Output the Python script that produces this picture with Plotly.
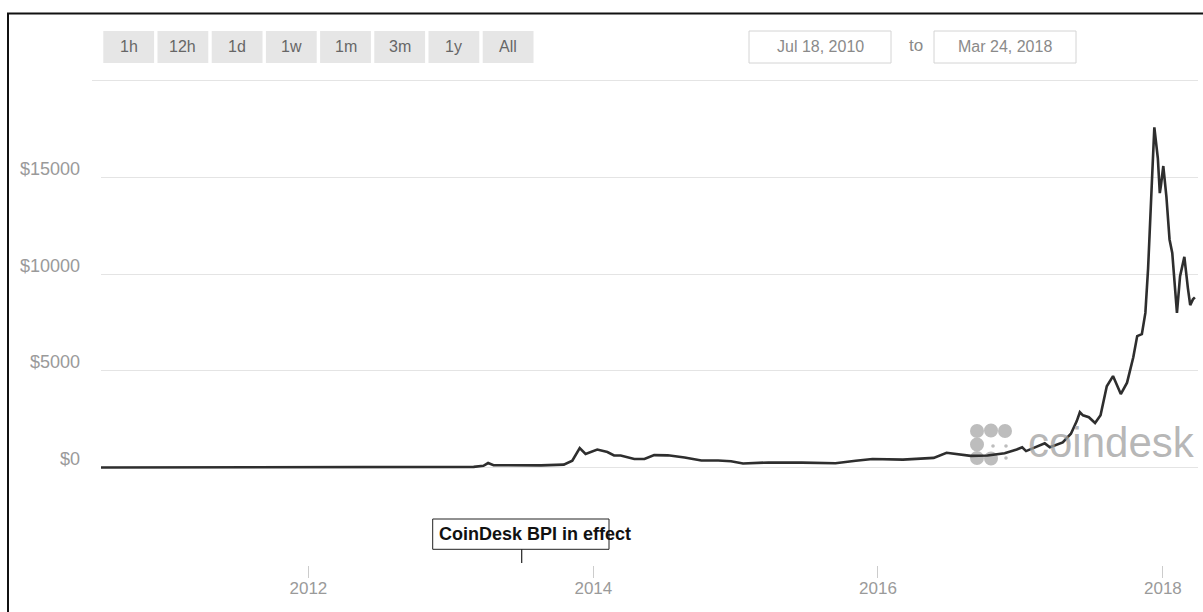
import plotly.graph_objects as go

# ---------------- data ----------------
dates = [
    "2010-07-18", "2010-11-06", "2011-02-10", "2011-06-08", "2011-07-20", "2011-11-18",
    "2012-02-10", "2012-06-15", "2012-08-16", "2012-11-28", "2013-01-20", "2013-02-28",
    "2013-03-25", "2013-04-06", "2013-04-20", "2013-05-07", "2013-06-10", "2013-07-14",
    "2013-08-20", "2013-10-17", "2013-11-08", "2013-11-27", "2013-12-12", "2014-01-11",
    "2014-02-06", "2014-02-23", "2014-03-12", "2014-04-16", "2014-05-12", "2014-06-06",
    "2014-07-11", "2014-08-23", "2014-10-05", "2014-11-17", "2014-12-20", "2015-01-20",
    "2015-03-26", "2015-06-20", "2015-09-14", "2015-11-05", "2015-12-18", "2016-03-05",
    "2016-05-23", "2016-06-25", "2016-07-22", "2016-08-26", "2016-10-08", "2016-11-21",
    "2016-12-22", "2017-01-05", "2017-01-15", "2017-02-19", "2017-03-04", "2017-03-17",
    "2017-04-19", "2017-05-10", "2017-05-25", "2017-06-02", "2017-06-10", "2017-06-25",
    "2017-07-11", "2017-07-25", "2017-08-10", "2017-08-26", "2017-09-15", "2017-10-01",
    "2017-10-17", "2017-10-27", "2017-11-08", "2017-11-17", "2017-11-24", "2017-12-04",
    "2017-12-10", "2017-12-19", "2017-12-24", "2017-12-27", "2018-01-02", "2018-01-10",
    "2018-01-18", "2018-01-25", "2018-02-06", "2018-02-14", "2018-02-25", "2018-03-06",
    "2018-03-12", "2018-03-19", "2018-03-24",
]
prices = [
    0.08, 0.4, 1.0, 29, 14, 2.2,
    5.5, 6.5, 12, 12, 17, 33,
    90, 230, 120, 115, 100, 85,
    110, 150, 350, 1000, 700, 930,
    800, 620, 620, 440, 440, 640,
    630, 520, 360, 360, 320, 210,
    260, 250, 220, 350, 440, 410,
    500, 760, 680, 600, 620, 740,
    930, 1050, 850, 1150, 1250, 1050,
    1300, 1750, 2400, 2860, 2700, 2600,
    2300, 2700, 4200, 4730, 3800, 4390,
    5700, 6800, 6900, 8000, 10300, 14900,
    17600, 16000, 14200, 14600, 15600, 14000,
    11800, 11100, 8000, 9900, 10900, 9300,
    8400, 8700, 8800,
]

x_tick_vals = ["2012-01-01", "2014-01-01", "2016-01-01", "2018-01-01"]
x_tick_text = ["2012", "2014", "2016", "2018"]
y_tick_vals = [0, 5000, 10000, 15000, 20000]
y_tick_text = ["$0", "$5000", "$10000", "$15000", ""]
range_buttons = ["1h", "12h", "1d", "1w", "1m", "3m", "1y", "All"]
date_from = "Jul 18, 2010"
date_to = "Mar 24, 2018"
flag_text = "CoinDesk BPI in effect"
watermark = "coindesk"

# ---------------- layout geometry (pixels) ----------------
W, H = 1203, 612
L, R, T, B = 101, 5, 81, 47
PW = W - L - R
PH = H - T - B
FONT = "Arial, Liberation Sans, sans-serif"


def px(x):
    return (x - L) / PW


def py(y):
    return (H - B - y) / PH


fig = go.Figure()
fig.add_trace(go.Scatter(
    x=dates, y=prices, mode="lines",
    line=dict(color="#2e2e2e", width=2.6),
    hoverinfo="skip", showlegend=False,
))

shapes = []
annotations = []

# top border line of plot area (the $20000 level)
shapes.append(dict(type="line", xref="paper", yref="paper",
                   x0=px(92), x1=px(1198), y0=py(80.5), y1=py(80.5),
                   line=dict(color="#e4e4e4", width=1.2), layer="below"))

# range selector buttons
bx0, bw, bstep = 103.3, 50.8, 54.2
for i, lab in enumerate(range_buttons):
    x0 = bx0 + i * bstep
    shapes.append(dict(type="rect", xref="paper", yref="paper",
                       x0=px(x0), x1=px(x0 + bw), y0=py(63), y1=py(31),
                       fillcolor="#e6e6e6", line=dict(width=0), layer="above"))
    annotations.append(dict(xref="paper", yref="paper", x=px(x0 + bw / 2), y=py(47),
                            text=lab, showarrow=False, xanchor="center", yanchor="middle",
                            font=dict(family=FONT, size=16, color="#666666")))

# date input boxes
for (x0, x1, txt) in [(749, 891, date_from), (934, 1076, date_to)]:
    shapes.append(dict(type="rect", xref="paper", yref="paper",
                       x0=px(x0), x1=px(x1), y0=py(63), y1=py(31),
                       fillcolor="white", line=dict(color="#d4d4d4", width=1)))
    annotations.append(dict(xref="paper", yref="paper", x=px((x0 + x1) / 2), y=py(47),
                            text=txt, showarrow=False, xanchor="center", yanchor="middle",
                            font=dict(family=FONT, size=16, color="#8a8a8a")))
annotations.append(dict(xref="paper", yref="paper", x=px(916), y=py(46),
                        text="to", showarrow=False, xanchor="center", yanchor="middle",
                        font=dict(family=FONT, size=17, color="#8a8a8a")))

# flag annotation
shapes.append(dict(type="rect", xref="paper", yref="paper",
                   x0=px(432.7), x1=px(609), y0=py(549.3), y1=py(519),
                   fillcolor="white", line=dict(color="#222222", width=1)))
shapes.append(dict(type="line", xref="paper", yref="paper",
                   x0=px(521.7), x1=px(521.7), y0=py(549.3), y1=py(563),
                   line=dict(color="#222222", width=1.2)))
annotations.append(dict(xref="paper", yref="paper", x=px(436.5), y=py(534),
                        text="<b>" + flag_text + "</b>", showarrow=False,
                        xanchor="left", yanchor="middle",
                        font=dict(family=FONT, size=18, color="#111111")))

# coindesk watermark (logo dots + text)
big = [(977, 431), (991, 430.5), (1005, 431), (977, 444.5), (977, 458), (991, 458.5)]
small = [(993, 446), (1006, 446), (1006, 458)]
for (cx, cy) in big:
    shapes.append(dict(type="circle", xref="paper", yref="paper",
                       x0=px(cx - 7), x1=px(cx + 7), y0=py(cy + 7), y1=py(cy - 7),
                       fillcolor="#bdbdbd", line=dict(width=0), layer="below"))
for (cx, cy) in small:
    shapes.append(dict(type="circle", xref="paper", yref="paper",
                       x0=px(cx - 1.8), x1=px(cx + 1.8), y0=py(cy + 1.8), y1=py(cy - 1.8),
                       fillcolor="#bdbdbd", line=dict(width=0), layer="below"))
annotations.append(dict(xref="paper", yref="paper", x=px(1026), y=py(442),
                        text=watermark, showarrow=False, xanchor="left", yanchor="middle",
                        font=dict(family=FONT, size=42, color="rgba(160,160,160,0.75)")))

# image frame (left + top edges)
shapes.append(dict(type="line", xref="paper", yref="paper",
                   x0=px(8), x1=px(8), y0=py(13), y1=py(612),
                   line=dict(color="#111111", width=2)))
shapes.append(dict(type="line", xref="paper", yref="paper",
                   x0=px(7), x1=px(1203), y0=py(13.5), y1=py(13.5),
                   line=dict(color="#111111", width=2)))

fig.update_layout(
    width=W, height=H,
    margin=dict(l=L, r=R, t=T, b=B, pad=0),
    paper_bgcolor="white", plot_bgcolor="white",
    showlegend=False,
    shapes=shapes, annotations=annotations,
    xaxis=dict(
        type="date", range=["2010-07-18", "2018-04-01"],
        tickvals=x_tick_vals, ticktext=x_tick_text,
        ticks="outside", ticklen=12, tickcolor="#cccccc", tickwidth=1,
        showgrid=False, zeroline=False, showline=False,
        ticklabelstandoff=-4,
        tickfont=dict(family=FONT, size=17, color="#9a9a9a"),
        fixedrange=True,
    ),
    yaxis=dict(
        range=[-5045, 20000],
        tickvals=y_tick_vals, ticktext=y_tick_text,
        showgrid=True, gridcolor="#e4e4e4", gridwidth=1,
        zeroline=False, showline=False, ticks="",
        ticklabelstandoff=20, ticklabelshift=-9,
        tickfont=dict(family=FONT, size=18, color="#9a9a9a"),
        fixedrange=True,
    ),
)

fig.write_html("out.html", config={"displayModeBar": False},
               post_script="document.body.style.margin='0';document.body.style.overflow='hidden';")
